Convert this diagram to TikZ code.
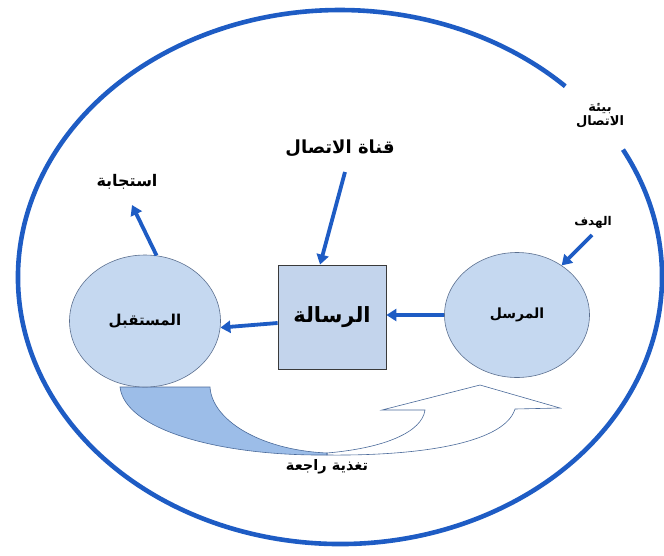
\documentclass[tikz,border=0pt]{standalone}
\usepackage{fontspec}
\usetikzlibrary{shapes.geometric,arrows.meta,calc}
\TeXXeTstate=1
\newfontfamily\arabicfont[Script=Arabic]{DejaVu Sans}
\definecolor{mainblue}{HTML}{1E5CC4}
\definecolor{circfill}{HTML}{C5D8F0}
\definecolor{circedge}{HTML}{5B6F8F}
\definecolor{boxfill}{HTML}{C3D4EC}
\definecolor{boxedge}{HTML}{3A3A3A}
\definecolor{fbfill}{HTML}{9CBDE8}
\definecolor{fbedge}{HTML}{4A6A9A}
\newcommand{\arsize}[1]{\fontsize{#1}{#1}\arabicfont\bfseries}
\begin{document}
\begin{tikzpicture}[x=1pt,y=-1pt,
  party/.style={ellipse,draw=circedge,line width=0.6pt,fill=circfill,inner sep=0pt},
  msgbox/.style={rectangle,draw=boxedge,line width=0.8pt,fill=boxfill,inner sep=0pt},
  arr/.style={draw=mainblue,line width=3.8pt,-{Triangle[length=10pt,width=12pt]}},
  lbl/.style={inner sep=1pt,text=black}]
\useasboundingbox (0,0) rectangle (664,555);
% environment
\draw[mainblue,line width=4.6pt] (340,277) ++(-28.5:322 and 267) arc[start angle=-28.5,end angle=314.4,x radius=322,y radius=267];
% feedback ribbon
\filldraw[fill=white,draw=fbedge,line width=0.6pt]
  (327,453) .. controls (385,448) and (422,432) .. (425,410)
  -- (382,410) -- (480,385) -- (560,408) -- (515,409)
  .. controls (505,442) and (425,456) .. (327,455) -- cycle;
\filldraw[fill=fbfill,draw=fbedge,line width=0.6pt]
  (120,387) -- (210,387) .. controls (212,420) and (260,450) .. (327,453)
  -- (327,455) .. controls (220,456) and (125,430) .. (120,387) -- cycle;
% nodes
\node[party,minimum width=151pt,minimum height=132pt] (recv) at (145,321) {\arsize{15}\beginR المستقبل\endR};
\node[party,minimum width=145pt,minimum height=125pt] (send) at (517,315) {\arsize{14}\beginR المرسل\endR};
\node[msgbox,minimum width=108pt,minimum height=104pt] (box) at (332,317) {\arsize{21}\beginR الرسالة\endR};
\node[lbl] (chan) at (340,148) {\arsize{18}\beginR قناة الاتصال\endR};
\node[lbl] (resp) at (127,182) {\arsize{16}\beginR استجابة\endR};
\node[lbl] (goal) at (593,222) {\arsize{12}\beginR الهدف\endR};
\node[lbl,align=center] (env) at (600,116) {\arsize{13}\beginR بيئة\endR\\[1pt]\arsize{13}\beginR الاتصال\endR};
\node[lbl] (fb) at (327,467) {\arsize{14.5}\beginR تغذية راجعة\endR};
% connector ends
\coordinate (chtail) at (345,172);
\coordinate (resptip) at (132,205);
\coordinate (goaltail) at (592,235);
% connectors
\draw[arr] (chtail) -- ($(box.north west)!0.39!(box.north east)$);
\draw[arr] (recv.80) -- (resptip);
\draw[arr] (goaltail) -- (send.48);
\draw[arr] (send.west) -- (box.east |- send.west);
\draw[arr] ([yshift=-6pt]box.west) -- (recv.-5);
\end{tikzpicture}
\end{document}
